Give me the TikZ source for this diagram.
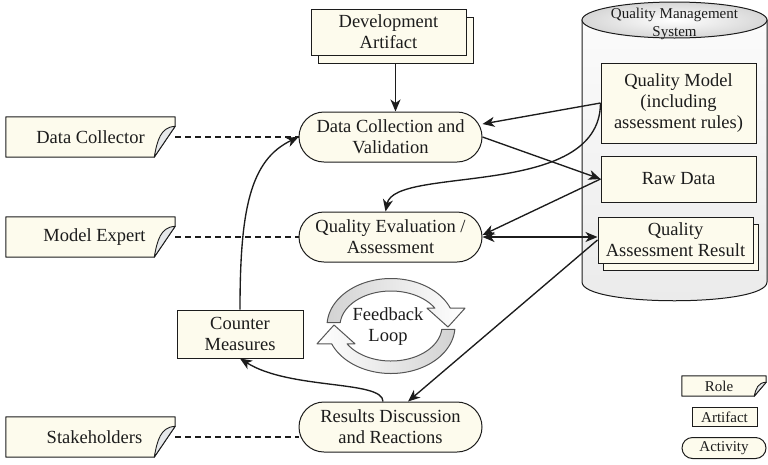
\documentclass[tikz,border=0pt]{standalone}
\usepackage{fontspec}
\setmainfont{Liberation Serif}
\usetikzlibrary{arrows.meta,shapes.misc,calc,backgrounds}
\definecolor{cream}{RGB}{253,251,237}
\definecolor{ink}{RGB}{28,28,28}
\definecolor{curlgray}{RGB}{230,232,234}
\newcommand{\mainfs}{\fontsize{18.5}{21}\selectfont}
\newcommand{\smallfs}{\fontsize{15}{18}\selectfont}
\newcommand{\rolefold}[3]{%
  \begin{pgfonlayer}{background}
  \draw[draw=ink, fill=cream, line width=1pt, line join=round]
    (#1.north west) -- (#1.north east) -- ([yshift=#3pt]#1.south east)
    -- ([xshift=-#2pt]#1.south east) -- (#1.south west) -- cycle;
  \draw[draw=ink, fill=curlgray, line width=0.9pt, line join=round]
    ([xshift=-#2pt]#1.south east)
    .. controls ([xshift={-0.85*#2pt},yshift={0.55*#3pt}]#1.south east)
    and ([xshift={-0.7*#2pt},yshift={0.97*#3pt}]#1.south east)
    .. ([yshift=#3pt]#1.south east) -- cycle;
  \end{pgfonlayer}}
\tikzset{
  base/.style={draw=ink, line width=1pt, text=ink},
  artifact/.style={base, fill=cream, rectangle, inner sep=2pt, align=center, font=\mainfs},
  activity/.style={base, fill=cream, rounded rectangle, minimum width=187pt, minimum height=50pt, inner sep=2pt, align=center, font=\mainfs},
  rolenode/.style={rectangle, inner sep=0pt, text=ink, font=\mainfs, minimum width=169pt, minimum height=40pt},
  arr/.style={draw=ink, line width=1.35pt, -{Stealth[length=12pt,width=10pt,inset=3.5pt]}},
  dblarr/.style={draw=ink, line width=1.35pt, {Stealth[length=12pt,width=10pt,inset=3.5pt]}-{Stealth[length=12pt,width=10pt,inset=3.5pt]}},
  dashline/.style={draw=ink, line width=1.35pt, dash pattern=on 6pt off 4pt},
  fbarrow/.style={draw=ink!75, line width=1pt, line join=round},
}
\begin{document}
\begin{tikzpicture}[x=1pt,y=-1pt]
\useasboundingbox (0,0) rectangle (768,464);

% Quality management system cylinder
\path[draw=ink, line width=1pt, top color=gray!3, bottom color=gray!16]
  (582,20) -- (582,282) .. controls (582,307) and (767,307) .. (767,282) -- (767,20) -- cycle;
\draw[draw=ink, line width=1pt, inner color=white, outer color=gray!32]
  (674.5,20) ellipse [x radius=92.5pt, y radius=18pt];
\node[text=ink, font=\smallfs, align=center, inner sep=0pt] (qms) at (674.5,24) {Quality Management\\System};

% artifacts
\node[artifact, minimum width=155pt, minimum height=46pt] (da2) at (395.5,40) {};
\node[artifact, minimum width=155pt, minimum height=46pt] (da) at (388.5,32) {Development\\Artifact};
\node[artifact, minimum width=155pt, minimum height=80pt] (qm) at (678.5,103) {Quality Model\\(including\\assessment rules)};
\node[artifact, minimum width=155pt, minimum height=46pt] (rd) at (678.5,179) {Raw Data};
\node[artifact, minimum width=155pt, minimum height=46pt] (qarb) at (680.5,247) {};
\node[artifact, minimum width=155pt, minimum height=46pt] (qar) at (675.5,240) {Quality\\Assessment Result};
\node[artifact, minimum width=126pt, minimum height=48pt] (cm) at (240,334) {Counter\\Measures};

% activities
\node[activity] (dc) at (390.5,137) {Data Collection and\\Validation};
\node[activity] (qe) at (390.5,237) {Quality Evaluation /\\Assessment};
\node[activity] (res) at (390.5,427) {Results Discussion\\and Reactions};

% roles
\node[rolenode] (dcol) at (90.5,137) {Data Collector};
\rolefold{dcol}{21}{31}
\node[rolenode] (mexp) at (90.5,237) {\hspace*{8pt}Model Expert};
\rolefold{mexp}{21}{31}
\node[rolenode] (stake) at (90.5,437) {\hspace*{8pt}Stakeholders};
\rolefold{stake}{21}{31}

% legend
\node[rolenode, font=\smallfs, minimum width=84pt, minimum height=20pt] (lrole) at (724,386) {Role\hspace*{10pt}};
\rolefold{lrole}{12}{14}
\node[artifact, font=\smallfs, minimum width=65pt, minimum height=19pt, inner sep=0pt] (lart) at (724.5,417) {Artifact};
\node[activity, font=\smallfs, minimum width=84pt, minimum height=21pt, inner sep=0pt] (lact) at (724,448) {Activity};

% feedback loop
\node[text=ink, font=\mainfs, align=center, inner sep=0pt] (fb) at (388,327) {Feedback\\Loop};
\begin{scope}[shift={(391,326)}, yscale=-1]
  \draw[fbarrow, left color=gray!35, right color=white]
    plot[domain=176:22, samples=60] ({64*cos(\x)},{47.5*sin(\x)})
    -- (74,17.8) -- (57,-1) -- (36,17.8)
    -- plot[domain=30.6:174.6, samples=60] ({51*cos(\x)},{35*sin(\x)}) -- cycle;
  \draw[fbarrow, left color=white, right color=gray!35]
    plot[domain=176:22, samples=60] ({-64*cos(\x)},{-47.5*sin(\x)})
    -- (-74,-17.8) -- (-57,1) -- (-36,-17.8)
    -- plot[domain=30.6:174.6, samples=60] ({-51*cos(\x)},{-35*sin(\x)}) -- cycle;
\end{scope}

% connectors
\draw[arr] (da2.south) -- (da2.south |- dc.north);
\draw[arr] (qm.west) -- ([yshift=13pt]dc.east);
\draw[arr] (qm.west) .. controls (600,200) and (395,165) .. ([xshift=-5pt]qe.north);
\draw[arr] (dc.east) -- (rd.west);
\draw[arr] (rd.west) -- ([yshift=2pt]qe.east);
\draw[dblarr] (qe.east) -- (qe.east -| qar.west);
\draw[arr] (qar.west) -- ([xshift=17.5pt]res.north);
\draw[arr] (cm.north) .. controls (240,210) and (250,160) .. (dc.west);
\draw[arr] ([xshift=-7.5pt]res.north) .. controls (383,380) and (290,390) .. (cm.south);

\draw[dashline] (dcol.east) -- (dc.west);
\draw[dashline] (mexp.east) -- (qe.west);
\draw[dashline] (stake.east) -- (stake.east -| res.west);
\end{tikzpicture}
\end{document}
